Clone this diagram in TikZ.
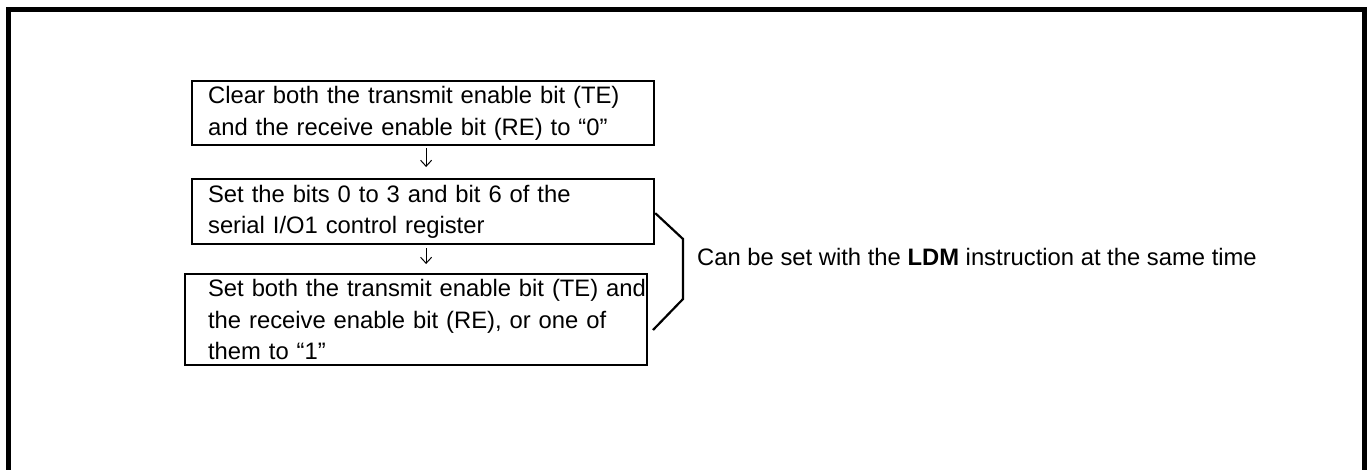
\documentclass[tikz,border=0pt]{standalone}
\usepackage{fontspec}
\setmainfont{Liberation Sans}
\usetikzlibrary{arrows.meta,calc}
\begin{document}
\begin{tikzpicture}[x=1pt,y=-1pt,
  box/.style={draw=black, line width=2.2pt, rectangle, align=left, inner ysep=0pt,
    font=\fontsize{23.8}{31.5}\selectfont, anchor=north west},
  arr/.style={line width=1pt, -{Straight Barb[length=6pt,width=11pt,line width=1pt]}},
  brace/.style={line width=2.2pt, line join=miter},
  frame/.style={line width=5.5pt},
  note/.style={font=\fontsize{23.8}{31.5}\selectfont, inner sep=0pt, anchor=base west}]
\useasboundingbox (0,0) rectangle (1372,469);
\clip (0,0) rectangle (1372,469);
\draw[frame] (8.5,490) -- (8.5,9.5) -- (1364.5,9.5) -- (1364.5,490);

\node[box, minimum width=462pt, minimum height=64pt, text width=430pt, inner xsep=16pt] (b1) at (191,80)
  {\mbox{Clear both the transmit enable bit (TE)}\\\mbox{and the receive enable bit (RE) to “0”}};
\node[box, minimum width=462pt, minimum height=65pt, text width=430pt, inner xsep=16pt] (b2) at (191,178)
  {\mbox{Set the bits 0 to 3 and bit 6 of the}\\\mbox{serial I/O1 control register}};
\node[box, minimum width=462pt, minimum height=91pt, text width=416pt, inner xsep=23pt] (b3) at (184,273)
  {\mbox{Set both the transmit enable bit (TE) and}\\\mbox{the receive enable bit (RE), or one of}\\\mbox{them to “1”}};

\draw[arr, shorten <=2pt, shorten >=11pt] ([xshift=3pt]b1.south) -- ([xshift=3pt]b2.north);
\draw[arr, shorten <=3pt, shorten >=9pt] ([xshift=3pt]b2.south) -- ([xshift=10pt]b3.north);

\coordinate (k1) at (683,239);
\coordinate (k2) at (683,299);
\coordinate (k3) at (653,330);
\draw[brace] ([yshift=-1.5pt]b2.east) -- (k1) -- (k2) -- (k3);

\node[note] (t) at (697,265) {Can be set with the \textbf{LDM} instruction at the same time};
\end{tikzpicture}
\end{document}
